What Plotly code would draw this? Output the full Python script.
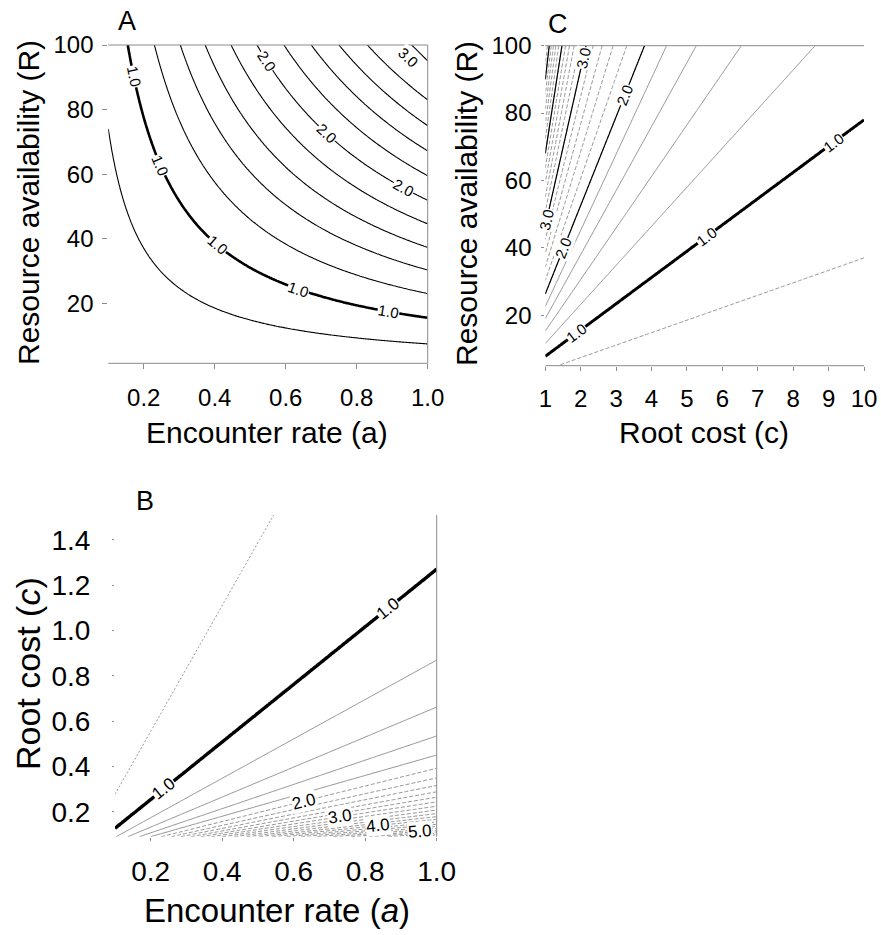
import math
import numpy as np
import plotly.graph_objects as go

W, H = 881, 935
FONT = "Liberation Sans, Arial, Helvetica, sans-serif"

# ---------------- data ----------------
# Panel A: contour value and the product a*R along that contour
A_levels = [0.8, 1.0, 1.2, 1.4, 1.6, 1.8, 2.0, 2.2, 2.4, 2.6, 2.8, 3.0]
A_aR = [7.4, 15.5, 23.0, 30.3, 37.3, 44.6, 51.9, 59.5, 67.2, 75.0, 83.0, 91.0]

# Panel C: contour value and the ratio R/c along that contour
C_levels = [0.8, 1.0, 1.2, 1.4, 1.6, 1.8, 2.0, 2.2, 2.4, 2.6, 2.8, 3.0,
            3.2, 3.4, 3.6, 3.8, 4.0, 4.2, 4.4, 4.6, 4.8, 5.0, 5.2, 5.4]
C_Rc = [3.7, 7.8, 11.6, 15.3, 19.0, 22.6, 26.3, 30.3, 34.3, 38.4, 42.5, 46.5,
        50.8, 55.1, 59.4, 63.7, 68.0, 72.4, 76.8, 81.2, 85.6, 90.0, 94.4, 98.8]

# Panel B: contour value and the ratio a/c along that contour
B_levels = [0.8, 1.0, 1.2, 1.4, 1.6, 1.8, 2.0, 2.2, 2.4, 2.6, 2.8, 3.0, 3.2,
            3.4, 3.6, 3.8, 4.0, 4.2, 4.4, 4.6, 4.8, 5.0, 5.2, 5.4, 5.6, 5.8]
B_ac = [0.36, 0.787, 1.15, 1.51, 1.87, 2.22, 2.55, 2.86, 3.16, 3.47, 3.78, 4.10, 4.45,
        4.82, 5.20, 5.60, 6.00, 6.45, 6.90, 7.40, 7.90, 8.45, 9.0, 9.6, 10.2, 10.9]

# tick labels
A_xticks = [0.2, 0.4, 0.6, 0.8, 1.0]
A_xtext = ["0.2", "0.4", "0.6", "0.8", "1.0"]
A_yticks = [20, 40, 60, 80, 100]
A_ytext = ["20", "40", "60", "80", "100"]
C_xticks = [1, 2, 3, 4, 5, 6, 7, 8, 9, 10]
C_xtext = ["1", "2", "3", "4", "5", "6", "7", "8", "9", "10"]
C_yticks = [20, 40, 60, 80, 100]
C_ytext = ["20", "40", "60", "80", "100"]
B_xticks = [0.2, 0.4, 0.6, 0.8, 1.0]
B_xtext = ["0.2", "0.4", "0.6", "0.8", "1.0"]
B_yticks = [0.2, 0.4, 0.6, 0.8, 1.0, 1.2, 1.4]
B_ytext = ["0.2", "0.4", "0.6", "0.8", "1.0", "1.2", "1.4"]

# ---------------- layout geometry ----------------
P = {
    "A": dict(xd=[108.3 / W, 427.7 / W], yd=[1 - 363.3 / H, 1 - 45.0 / H],
              xr=[0.1, 1.0], yr=[1.4, 100], xa="x", ya="y"),
    "C": dict(xd=[545.3 / W, 864.0 / W], yd=[1 - 365.7 / H, 1 - 45.7 / H],
              xr=[1, 10], yr=[5, 100], xa="x2", ya="y2"),
    "B": dict(xd=[115.0 / W, 436.7 / W], yd=[1 - 836.7 / H, 1 - 515.0 / H],
              xr=[0.1, 1.0], yr=[0.09, 1.51], xa="x3", ya="y3"),
}
for p in P.values():
    p["px"] = (p["xd"][1] - p["xd"][0]) * W / (p["xr"][1] - p["xr"][0])
    p["py"] = (p["yd"][1] - p["yd"][0]) * H / (p["yr"][1] - p["yr"][0])


def field(u, U):
    U_ext = [0.0] + list(U) + [U[-1] * 100]
    idx = [-1] + list(range(len(U))) + [len(U)]
    return np.round(np.interp(u, U_ext, idx), 3)


def ctr(p, xs, ys, z, start, end, step, color, width, dash="solid"):
    return go.Contour(
        x=xs, y=ys, z=z, xaxis=p["xa"], yaxis=p["ya"],
        autocontour=False,
        contours=dict(start=start, end=end + 0.01, size=step, coloring="none", showlabels=False),
        line=dict(color=color, width=width, dash=dash, smoothing=1),
        showscale=False, hoverinfo="skip",
    )


fig = go.Figure()
GRAY = "#777777"
DASH = "4px,2px"
DOT = "2px,2px"

# Panel A
pA = P["A"]
aA = np.linspace(pA["xr"][0], pA["xr"][1], 181)
RA = np.linspace(pA["yr"][0], pA["yr"][1], 181)
zA = field(aA[None, :] * RA[:, None], A_aR)
nA = len(A_aR)
fig.add_trace(ctr(pA, aA, RA, zA, 0, nA - 1, 1, "black", 1.1))
fig.add_trace(ctr(pA, aA, RA, zA, 1, 1, 1, "black", 2.6))

# Panel C
pC = P["C"]
cC = np.linspace(pC["xr"][0], pC["xr"][1], 181)
RC = np.linspace(pC["yr"][0], pC["yr"][1], 201)
zC = field(RC[:, None] / cC[None, :], C_Rc)
nC = len(C_Rc)
iC = C_levels.index
fig.add_trace(ctr(pC, cC, RC, zC, 0, 0, 1, GRAY, 0.8, DASH))
fig.add_trace(ctr(pC, cC, RC, zC, iC(1.2), iC(1.8), 1, GRAY, 0.8))
fig.add_trace(ctr(pC, cC, RC, zC, iC(2.0), nC - 1, 1, GRAY, 0.8, DASH))
fig.add_trace(ctr(pC, cC, RC, zC, iC(2.0), iC(5.0), 5, "black", 1.2))
fig.add_trace(ctr(pC, cC, RC, zC, iC(1.0), iC(1.0), 1, "black", 3.0))

# Panel B
pB = P["B"]
aB = np.linspace(pB["xr"][0], pB["xr"][1], 181)
cB = np.linspace(pB["yr"][0], pB["yr"][1], 201)
zB = field(aB[None, :] / cB[:, None], B_ac)
nB = len(B_ac)
iB = B_levels.index
fig.add_trace(ctr(pB, aB, cB, zB, 0, 0, 1, GRAY, 0.8, DOT))
fig.add_trace(ctr(pB, aB, cB, zB, iB(1.2), iB(1.8), 1, GRAY, 0.8))
fig.add_trace(ctr(pB, aB, cB, zB, iB(2.0), nB - 1, 1, GRAY, 0.8, DASH))
fig.add_trace(ctr(pB, aB, cB, zB, iB(1.0), iB(1.0), 1, "black", 3.4))

# ---------------- contour labels ----------------
ann = []


def lab(p, x, y, text, angle, size):
    ann.append(dict(x=x, y=y, xref=p["xa"], yref=p["ya"], text=text, showarrow=False,
                    textangle=angle, bgcolor="white", borderpad=0,
                    font=dict(family=FONT, size=size, color="black"),
                    xanchor="center", yanchor="middle"))


A_label_at = {1.0: [0.172, 0.247, 0.407, 0.636, 0.889], 2.0: [0.547, 0.716, 0.931], 3.0: [0.946]}
for lv, xs in A_label_at.items():
    u = A_aR[A_levels.index(lv)]
    for a in xs:
        ang = math.degrees(math.atan(pA["py"] * u / a ** 2 / pA["px"]))
        lab(pA, a, u / a, f"{lv:.1f}", ang, 15)

C_label_at = {1.0: [1.89, 5.56, 9.14], 2.0: [1.52, 3.25], 3.0: [1.04, 2.07]}
for lv, xs in C_label_at.items():
    u = C_Rc[C_levels.index(lv)]
    for c in xs:
        ang = -math.degrees(math.atan(pC["py"] * u / pC["px"]))
        lab(pC, c, u * c, f"{lv:.1f}", ang, 15)

B_label_at = {1.0: [0.237, 0.864], 2.0: [0.63], 3.0: [0.73], 4.0: [0.836], 5.0: [0.953]}
for lv, xs in B_label_at.items():
    u = B_ac[B_levels.index(lv)]
    for a in xs:
        ang = -math.degrees(math.atan(pB["py"] / (pB["px"] * u)))
        lab(pB, a, a / u, f"{lv:.1f}", ang, 17)


# ---------------- titles ----------------
def ptext(x, y, text, size, angle=0):
    ann.append(dict(x=x / W, y=1 - y / H, xref="paper", yref="paper", text=text,
                    showarrow=False, textangle=angle, xanchor="center", yanchor="middle",
                    font=dict(family=FONT, size=size, color="black")))


ptext(267, 432, "Encounter rate (a)", 30)
ptext(29, 203, "Resource availability (R)", 30, -90)
ptext(704, 432, "Root cost (c)", 30)
ptext(467, 203, "Resource availability (R)", 30, -90)
ptext(277, 910, "Encounter rate (<i>a</i>)", 33)
ptext(28, 674, "Root cost (<i>c</i>)", 34, -90)
ptext(127, 21, "A", 27)
ptext(558, 24, "C", 27)
ptext(145, 501, "B", 27)

# ---------------- frame lines ----------------
shapes = []


def edge(p, which):
    xr = p["xa"] + " domain"
    yr = p["ya"] + " domain"
    d = dict(top=(0, 1, 1, 1), bottom=(0, 0, 1, 0), right=(1, 0, 1, 1), left=(0, 0, 0, 1))[which]
    shapes.append(dict(type="line", xref=xr, yref=yr, x0=d[0], y0=d[1], x1=d[2], y1=d[3],
                       line=dict(color="#8a8a8a", width=1)))


for w in ("top", "right", "bottom"):
    edge(pA, w)
for w in ("top", "bottom"):
    edge(pC, w)
edge(pB, "right")


def xax(p, tv, tt, size, ticklen, standoff, ticks="outside"):
    return dict(domain=p["xd"], range=p["xr"], anchor=p["ya"], tickvals=tv, ticktext=tt,
                ticks=ticks, ticklen=ticklen, tickcolor="#8a8a8a", tickwidth=1,
                tickfont=dict(family=FONT, size=size, color="black"),
                ticklabelstandoff=standoff, showgrid=False, zeroline=False, showline=False,
                automargin=False, fixedrange=True)


def yax(p, tv, tt, size, ticklen, standoff):
    return dict(domain=p["yd"], range=p["yr"], anchor=p["xa"], tickvals=tv, ticktext=tt,
                ticks="outside", ticklen=ticklen, tickcolor="#8a8a8a", tickwidth=1,
                tickfont=dict(family=FONT, size=size, color="black"),
                ticklabelstandoff=standoff, showgrid=False, zeroline=False, showline=False,
                automargin=False, fixedrange=True)


fig.update_layout(
    width=W, height=H, autosize=False,
    margin=dict(l=0, r=0, t=0, b=0, pad=0, autoexpand=False),
    paper_bgcolor="white", plot_bgcolor="white",
    showlegend=False,
    font=dict(family=FONT, color="black"),
    xaxis=xax(pA, A_xticks, A_xtext, 24, 5, 8),
    yaxis=yax(pA, A_yticks, A_ytext, 24, 5, 4),
    xaxis2=xax(pC, C_xticks, C_xtext, 24, 4, 7),
    yaxis2=yax(pC, C_yticks, C_ytext, 24, 3, 5),
    xaxis3=xax(pB, B_xticks, B_xtext, 28, 3, 7),
    yaxis3=yax(pB, B_yticks, B_ytext, 28, 2, 16),
    annotations=ann,
    shapes=shapes,
)

fig.write_html(
    "out.html",
    config={"displayModeBar": False, "staticPlot": True},
    post_script="document.body.style.margin='0';document.body.style.padding='0';"
                "document.documentElement.style.overflow='hidden';",
)
